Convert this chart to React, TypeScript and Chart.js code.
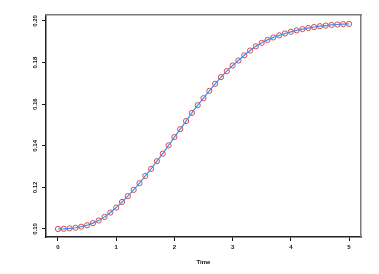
import React, { useEffect, useRef } from "react";
import { Chart, registerables } from "chart.js";

Chart.register(...registerables);

const timeValues: number[] = [
  0, 0.1, 0.2, 0.3, 0.4, 0.5, 0.6, 0.7, 0.8, 0.9,
  1.0, 1.1, 1.2, 1.3, 1.4, 1.5, 1.6, 1.7, 1.8, 1.9,
  2.0, 2.1, 2.2, 2.3, 2.4, 2.5, 2.6, 2.7, 2.8, 2.9,
  3.0, 3.1, 3.2, 3.3, 3.4, 3.5, 3.6, 3.7, 3.8, 3.9,
  4.0, 4.1, 4.2, 4.3, 4.4, 4.5, 4.6, 4.7, 4.8, 4.9, 5.0,
];

const seriesValues: number[] = [
  0.1000, 0.1001, 0.1003, 0.1006, 0.1011, 0.1018, 0.1028, 0.1041, 0.1058, 0.1079,
  0.1103, 0.1130, 0.1158, 0.1188, 0.1220, 0.1255, 0.1289, 0.1326, 0.1362, 0.1402,
  0.1442, 0.1480, 0.1519, 0.1558, 0.1595, 0.1629, 0.1664, 0.1698, 0.1730, 0.1759,
  0.1786, 0.1810, 0.1835, 0.1858, 0.1878, 0.1895, 0.1909, 0.1921, 0.1931, 0.1940,
  0.1948, 0.1955, 0.1961, 0.1966, 0.1971, 0.1975, 0.1978, 0.1981, 0.1983, 0.1985, 0.1986,
];

const xTicks: number[] = [0, 1, 2, 3, 4, 5];
const yTicks: number[] = [0.1, 0.12, 0.14, 0.16, 0.18, 0.2];
const xLabel = "Time";

const X_MIN = -0.206;
const X_MAX = 5.206;
const Y_MIN = 0.09615;
const Y_MAX = 0.20288;

export default function App() {
  const ref = useRef<HTMLCanvasElement | null>(null);

  useEffect(() => {
    document.body.style.margin = "0";
    if (!ref.current) return;
    const pts = timeValues.map((t, i) => ({ x: t, y: seriesValues[i] }));
    const font = { family: "'Liberation Sans', Arial, sans-serif", size: 6, weight: "bold" as const };
    const chart = new Chart(ref.current, {
      type: "scatter",
      data: {
        datasets: [
          {
            data: pts,
            showLine: true,
            borderColor: "#3d8ff0",
            borderWidth: 1.2,
            pointRadius: 0,
            fill: false,
          },
          {
            data: pts,
            showLine: false,
            pointRadius: 2.6,
            pointBorderWidth: 1,
            pointBackgroundColor: "rgba(0,0,0,0)",
            pointBorderColor: "#d9474b",
          },
        ],
      },
      options: {
        animation: false,
        responsive: false,
        maintainAspectRatio: false,
        layout: { padding: { top: 15, right: 18, left: 0, bottom: 0 } },
        plugins: { legend: { display: false }, tooltip: { enabled: false } },
        scales: {
          x: {
            type: "linear",
            position: "bottom",
            min: X_MIN,
            max: X_MAX,
            afterBuildTicks: (s: any) => {
              s.ticks = xTicks.map((v) => ({ value: v }));
            },
            afterFit: (s: any) => {
              s.height = 37;
            },
            ticks: {
              font,
              color: "#111",
              padding: 3,
              callback: (v: any) => String(v),
            },
            grid: {
              display: true,
              drawOnChartArea: false,
              drawTicks: true,
              tickLength: 4,
              color: "#111",
              lineWidth: 1,
            },
            border: { display: true, color: "#222", width: 1.5 },
            title: {
              display: true,
              text: xLabel,
              font: { family: "'Liberation Sans', Arial, sans-serif", size: 6, weight: "bold" },
              color: "#111",
              padding: { top: 0, bottom: 8 },
            },
          },
          y: {
            type: "linear",
            position: "left",
            min: Y_MIN,
            max: Y_MAX,
            afterBuildTicks: (s: any) => {
              s.ticks = yTicks.map((v) => ({ value: v }));
            },
            afterFit: (s: any) => {
              s.width = 46;
            },
            ticks: {
              font,
              color: "#111",
              padding: 1,
              minRotation: 90,
              maxRotation: 90,
              crossAlign: "center",
              callback: (v: any) => Number(v).toFixed(2),
            },
            grid: {
              display: true,
              drawOnChartArea: false,
              drawTicks: true,
              tickLength: 4,
              color: "#111",
              lineWidth: 1,
            },
            border: { display: true, color: "#222", width: 1.5 },
          },
          x2: {
            type: "linear",
            position: "top",
            min: X_MIN,
            max: X_MAX,
            afterFit: (s: any) => {
              s.height = 0;
            },
            ticks: { display: false },
            grid: { display: true, drawOnChartArea: false, drawTicks: false, color: "rgba(0,0,0,0)" },
            border: { display: true, color: "#7a7a7a", width: 1.5 },
          },
          y2: {
            type: "linear",
            position: "right",
            min: Y_MIN,
            max: Y_MAX,
            afterFit: (s: any) => {
              s.width = 0;
            },
            ticks: { display: false },
            grid: { display: true, drawOnChartArea: false, drawTicks: false, color: "rgba(0,0,0,0)" },
            border: { display: true, color: "#7a7a7a", width: 1.5 },
          },
        },
      },
    });
    return () => chart.destroy();
  }, []);

  return (
    <canvas
      ref={ref}
      width={379}
      height={274}
      style={{ display: "block", width: 379, height: 274 }}
    />
  );
}
